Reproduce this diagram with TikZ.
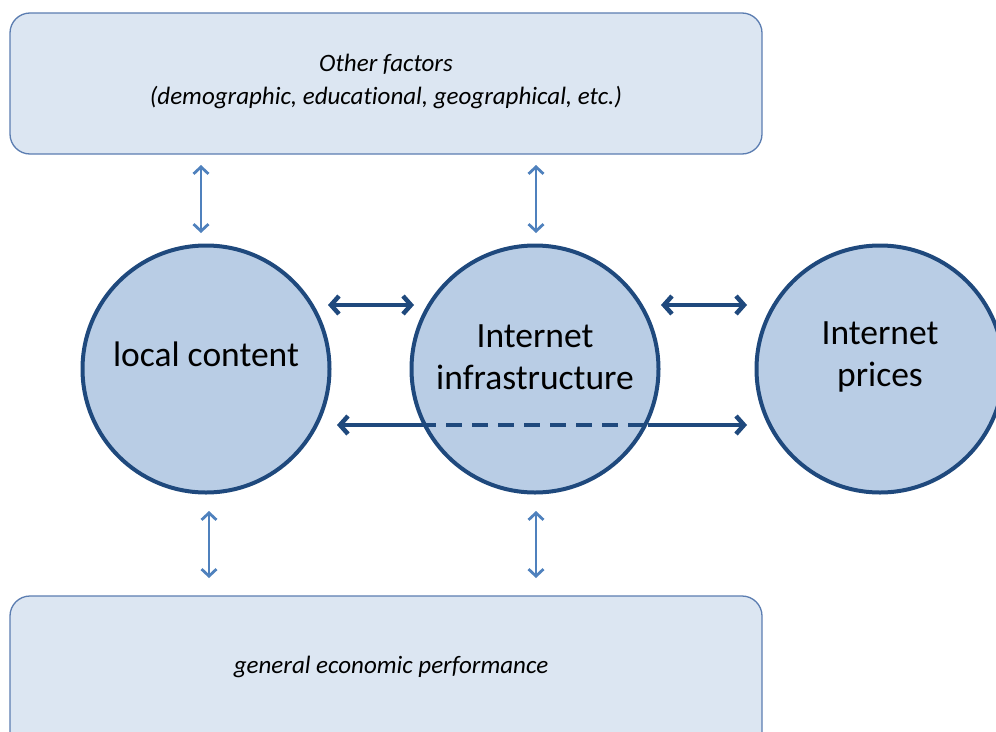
\documentclass[tikz,border=0pt]{standalone}
\usepackage{fontspec}
\setmainfont{Carlito}[Ligatures=NoCommon]
\usetikzlibrary{arrows.meta}
\definecolor{boxfill}{HTML}{DCE6F2}
\definecolor{boxline}{HTML}{5B7DB1}
\definecolor{circfill}{HTML}{B9CDE5}
\definecolor{navy}{HTML}{1F497D}
\definecolor{lightarrow}{HTML}{4F81BD}
\tikzset{
  factorbox/.style={draw=boxline, line width=1.3pt, fill=boxfill, rounded corners=20pt},
  bubble/.style={circle, draw=navy, line width=4pt, fill=circfill, minimum size=247pt, inner sep=0pt},
  bubbletext/.style={align=center, font=\fontsize{35.5}{42}\selectfont, inner sep=0pt},
  thinarrow/.style={draw=lightarrow, line width=2.8pt, {Straight Barb[length=7pt,width=15pt]}-{Straight Barb[length=7pt,width=15pt]}},
  thickarrow/.style={draw=navy, line width=4.5pt, {Straight Barb[length=8pt,width=18pt]}-{Straight Barb[length=8pt,width=18pt]}},
  boxtext/.style={font=\fontsize{25}{33}\selectfont\itshape, align=center}
}
\begin{document}
\begin{tikzpicture}[x=1pt,y=-1pt]
\useasboundingbox (0,0) rectangle (996,731);
\clip (0,0) rectangle (996,731);
\draw[factorbox] (10,13) rectangle (762,154);
\node[boxtext] (other) at (386,81) {Other factors\\(demographic, educational, geographical, etc.)};
\draw[factorbox] (10,596) rectangle (762,760);
\node[boxtext] (econ) at (391,667) {general economic performance};
\node[bubble] (local) at (206,369) {};
\node[bubble] (infra) at (535,369) {};
\node[bubble] (prices) at (880,369) {};
\node[bubbletext] (localtext) at (206,354) {local content};
\node[bubbletext] (infratext) at (535,357) {Internet\\infrastructure};
\node[bubbletext] (pricestext) at (880,357) {Internet\\prices};
\coordinate (t1a) at (201,165); \coordinate (t1b) at (201,233);
\coordinate (t2a) at (536,165); \coordinate (t2b) at (536,233);
\coordinate (b1a) at (209,511); \coordinate (b1b) at (209,578);
\coordinate (b2a) at (536,511); \coordinate (b2b) at (536,578);
\draw[thinarrow] (t1a) -- (t1b);
\draw[thinarrow] (t2a) -- (t2b);
\draw[thinarrow] (b1a) -- (b1b);
\draw[thinarrow] (b2a) -- (b2b);
\coordinate (h1a) at (328,305); \coordinate (h1b) at (414,305);
\coordinate (h2a) at (661,305); \coordinate (h2b) at (747,305);
\draw[thickarrow] (h1a) -- (h1b);
\draw[thickarrow] (h2a) -- (h2b);
\coordinate (la) at (337,425); \coordinate (lb) at (420,425);
\coordinate (lc) at (648,425); \coordinate (ld) at (747,425);
\draw[draw=navy, line width=4.5pt, {Straight Barb[length=8pt,width=18pt]}-] (la) -- (lb);
\draw[draw=navy, line width=4.5pt, dash pattern=on 16pt off 10pt] (lb) -- (lc);
\draw[draw=navy, line width=4.5pt, -{Straight Barb[length=8pt,width=18pt]}] (lc) -- (ld);
\end{tikzpicture}
\end{document}
